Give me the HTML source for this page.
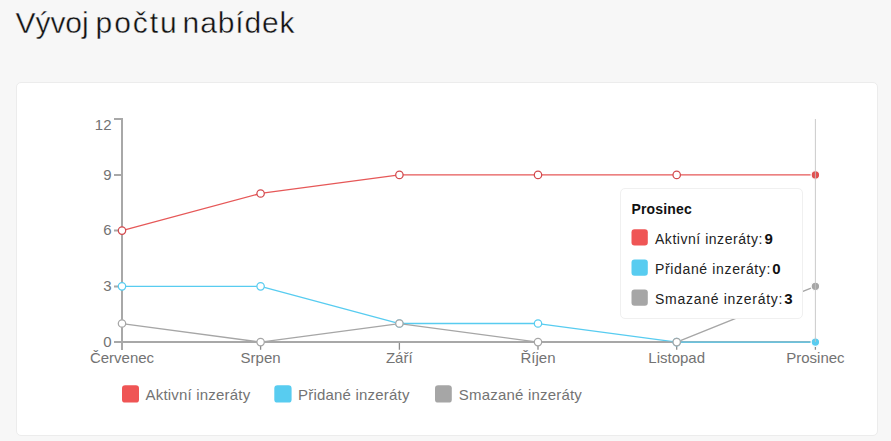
<!DOCTYPE html>
<html lang="cs">
<head>
<meta charset="utf-8">
<title>Vývoj počtu nabídek</title>
<style>
html,body{margin:0;padding:0;}
body{width:891px;height:441px;background:#f7f7f7;position:relative;overflow:hidden;font-family:"Liberation Sans",Arial,sans-serif;}
.card{position:absolute;left:16px;top:82px;width:860px;height:352px;background:#fff;border:1px solid #ececec;border-radius:5px;}
svg{position:absolute;left:0;top:0;}
.tip{position:absolute;left:620px;top:188px;width:181px;height:129px;background:#fff;border:1px solid #f0f0f0;border-radius:5px;}
</style>
</head>
<body>
<div class="card"></div>
<svg width="891" height="441" viewBox="0 0 891 441" font-family="Liberation Sans, Arial, sans-serif">
  <g font-size="30" fill="#111111" stroke="#f7f7f7" stroke-width="0.4">
    <text x="15.6" y="33" textLength="73" lengthAdjust="spacing">Vývoj</text>
    <text x="95.6" y="33" textLength="81" lengthAdjust="spacing">počtu</text>
    <text x="182.6" y="33" textLength="112" lengthAdjust="spacing">nabídek</text>
  </g>

  <!-- axes -->
  <g stroke="#a8a8a8" stroke-width="2" fill="none">
    <path d="M122 118.1V350"/>
    <path d="M115 342H816.5"/>
    <path d="M114 119.1H122M114 174.9H122M114 230.6H122M114 286.4H122M114 342H122"/>
  </g>
  <path d="M260.6 343V349.8M399.4 343V349.8M538 343V349.8M676.7 343V349.8M815.4 343V349.8" stroke="#8c8c8c" stroke-width="1.3" fill="none"/>
  <g font-size="15" fill="#737373" text-anchor="end">
    <text x="111.5" y="129.6">12</text>
    <text x="111.5" y="179.6">9</text>
    <text x="111.5" y="235.3">6</text>
    <text x="111.5" y="291.1">3</text>
    <text x="111.5" y="346.9">0</text>
  </g>
  <g font-size="15" fill="#737373" text-anchor="middle">
    <text x="122" y="362.8">Červenec</text>
    <text x="260.6" y="362.8">Srpen</text>
    <text x="399.3" y="362.8">Září</text>
    <text x="538" y="362.8">Říjen</text>
    <text x="676.7" y="362.8">Listopad</text>
    <text x="815.4" y="362.8">Prosinec</text>
  </g>

  <!-- series lines -->
  <g fill="none" stroke-width="1.3" stroke-linejoin="round">
    <polyline stroke="#e65858" points="122,230.62 260.6,193.46 399.4,174.88 538,174.88 676.7,174.88 815.4,174.88"/>
    <polyline stroke="#58ccf0" points="122,286.36 260.6,286.36 399.4,323.52 538,323.52 676.7,342.1 815.4,342.1"/>
    <polyline stroke="#a6a6a6" points="122,323.52 260.6,342.1 399.4,323.52 538,342.1 676.7,342.1 815.4,286.36"/>
  </g>
  <!-- symbols -->
  <g fill="#fff" stroke-width="1.25">
    <g stroke="#d24a4e"><circle cx="122" cy="230.62" r="3.7"/><circle cx="260.6" cy="193.46" r="3.7"/><circle cx="399.4" cy="174.88" r="3.7"/><circle cx="538" cy="174.88" r="3.7"/><circle cx="676.7" cy="174.88" r="3.7"/></g>
    <g stroke="#58ccf0"><circle cx="122" cy="286.36" r="3.7"/><circle cx="260.6" cy="286.36" r="3.7"/><circle cx="399.4" cy="323.52" r="3.7"/><circle cx="538" cy="323.52" r="3.7"/><circle cx="676.7" cy="342.1" r="3.7"/></g>
    <g stroke="#a6a6a6"><circle cx="122" cy="323.52" r="3.7"/><circle cx="260.6" cy="342.1" r="3.7"/><circle cx="399.4" cy="323.52" r="3.7"/><circle cx="538" cy="342.1" r="3.7"/><circle cx="676.7" cy="342.1" r="3.7"/></g>
  </g>
  <!-- hover dots -->
  <g stroke="#fff" stroke-width="1.2">
    <circle cx="815.4" cy="174.88" r="4.3" fill="#e05050"/>
    <circle cx="815.4" cy="342.1" r="4.3" fill="#58ccf0"/>
    <circle cx="815.4" cy="286.36" r="4.3" fill="#a6a6a6"/>
  </g>
  <!-- axis pointer -->
  <path d="M815.4 119V342" stroke="#c2c2c2" stroke-width="1" opacity="0.85"/>

  <!-- legend -->
  <rect x="122" y="385.3" width="17" height="17.3" rx="3.2" fill="#ef5555"/>
  <rect x="274.3" y="385.3" width="17.3" height="17.3" rx="3.2" fill="#58ccf0"/>
  <rect x="435" y="385.3" width="16.8" height="17.3" rx="3.2" fill="#a6a6a6"/>
  <g font-size="15" fill="#737373" letter-spacing="0.2">
    <text x="145.5" y="400.3">Aktivní inzeráty</text>
    <text x="298" y="400.3">Přidané inzeráty</text>
    <text x="458.8" y="400.3">Smazané inzeráty</text>
  </g>
</svg>
<div class="tip"></div>
<svg width="891" height="441" viewBox="0 0 891 441" font-family="Liberation Sans, Arial, sans-serif">
  <text x="631.5" y="213.8" font-size="14" font-weight="bold" fill="#111" letter-spacing="0.15">Prosinec</text>
  <rect x="631.5" y="229.3" width="16.3" height="16.3" rx="3" fill="#ef5555"/>
  <rect x="631.5" y="259.5" width="16.3" height="16.3" rx="3" fill="#58ccf0"/>
  <rect x="631.5" y="289.5" width="16.3" height="16.3" rx="3" fill="#a6a6a6"/>
  <g font-size="14" fill="#222">
    <text x="655" y="243.6" textLength="107.3" lengthAdjust="spacing">Aktivní inzeráty:</text>
    <text x="655" y="273.6" textLength="115.4" lengthAdjust="spacing">Přidané inzeráty:</text>
    <text x="655" y="303.6" textLength="127.4" lengthAdjust="spacing">Smazané inzeráty:</text>
  </g>
  <g font-size="15" font-weight="bold" fill="#111">
    <text x="764.6" y="243.8">9</text>
    <text x="772.2" y="273.8">0</text>
    <text x="784.3" y="303.8">3</text>
  </g>
</svg>
</body>
</html>
